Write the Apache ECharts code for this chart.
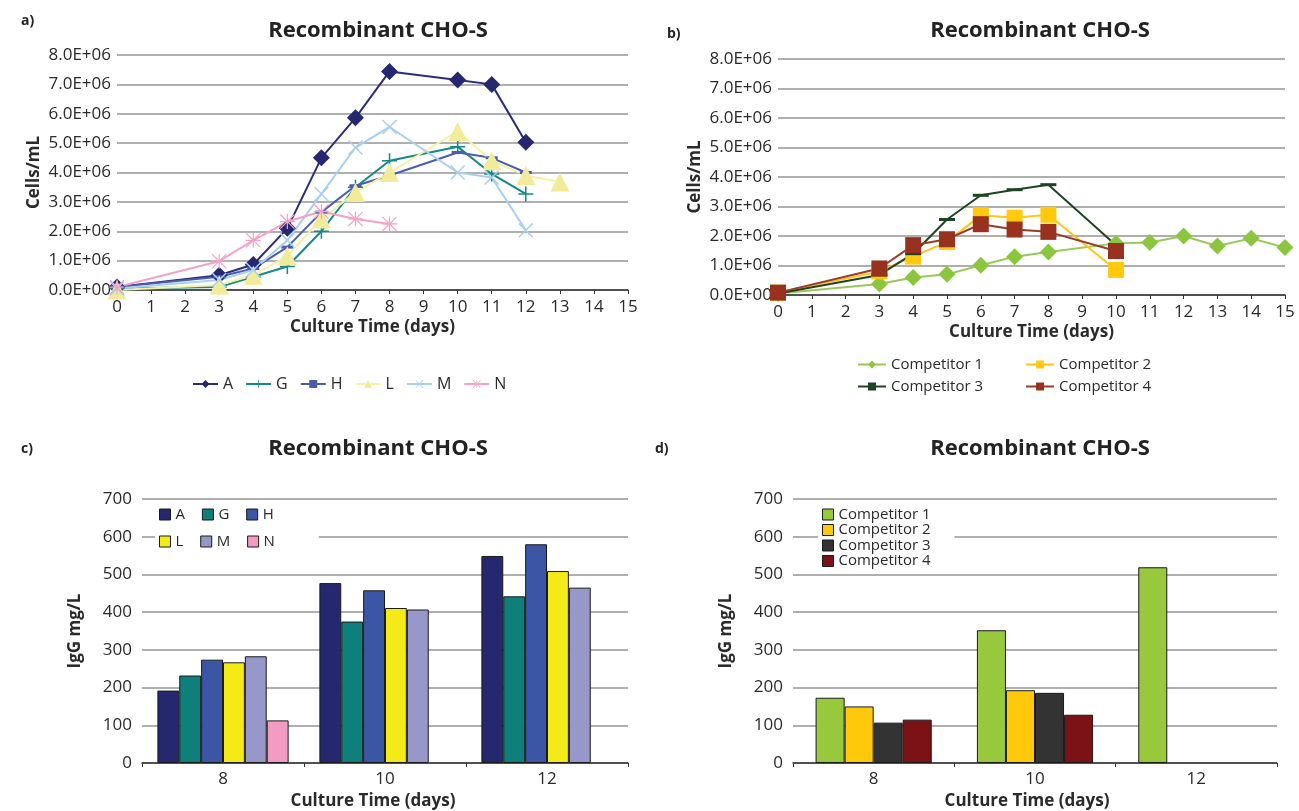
<!DOCTYPE html>
<html>
<head>
<meta charset="utf-8">
<script src="https://cdn.jsdelivr.net/npm/echarts@6/dist/echarts.min.js"></script>
<style>html,body{margin:0;padding:0;background:#fff;}#c{width:1299px;height:811px;}</style>
</head>
<body>
<div id="c"></div>
<script>
// ---- Data ----
const daysA = [0, 3, 4, 5, 6, 7, 8, 10, 11, 12];
const valA = [0.1, 0.5, 0.87, 2.1, 4.5, 5.86, 7.44, 7.15, 7.0, 5.03];
const daysG = [0, 3, 4, 5, 6, 7, 8, 10, 11, 12];
const valG = [0.05, 0.1, 0.45, 0.8, 2.0, 3.5, 4.4, 4.88, 3.95, 3.27];
const daysH = [0, 3, 4, 5, 6, 7, 8, 10, 11, 12];
const valH = [0.1, 0.45, 0.73, 1.46, 2.65, 3.55, 3.9, 4.68, 4.5, 4.0];
const daysL = [0, 3, 4, 5, 6, 7, 8, 10, 11, 12, 13];
const valL = [0.0, 0.17, 0.5, 1.16, 2.42, 3.32, 4.0, 5.4, 4.4, 3.9, 3.68];
const daysM = [0, 3, 4, 5, 6, 7, 8, 10, 11, 12];
const valM = [0.05, 0.34, 0.68, 1.69, 3.27, 4.85, 5.55, 4.0, 3.83, 2.03];
const daysN = [0, 3, 4, 5, 6, 7, 8];
const valN = [0.1, 0.98, 1.69, 2.33, 2.67, 2.42, 2.25];

const daysC1 = [0, 3, 4, 5, 6, 7, 8, 10, 11, 12, 13, 14, 15];
const valC1 = [0.05, 0.37, 0.59, 0.7, 1.01, 1.3, 1.46, 1.75, 1.78, 2.0, 1.66, 1.92, 1.61];
const daysC2 = [0, 3, 4, 5, 6, 7, 8, 10];
const valC2 = [0.08, 0.8, 1.3, 1.8, 2.7, 2.62, 2.72, 0.85];
const daysC3 = [0, 3, 4, 5, 6, 7, 8, 10];
const valC3 = [0.05, 0.68, 1.4, 2.56, 3.38, 3.57, 3.74, 1.69];
const daysC4 = [0, 3, 4, 5, 6, 7, 8, 10];
const valC4 = [0.08, 0.9, 1.69, 1.89, 2.4, 2.22, 2.14, 1.49];

const barCats = ['8', '10', '12'];
const igA = [192, 477, 549];
const igG = [232, 375, 442];
const igH = [274, 458, 580];
const igL = [267, 411, 509];
const igM = [283, 407, 465];
const igN = [113, null, null];
const igC1 = [173, 352, 519];
const igC2 = [150, 193, null];
const igC3 = [107, 186, null];
const igC4 = [115, 128, null];

// ---- Helpers ----
const FONT = 'Open Sans';
const TXT = '#2a2a2a';
const pairs = (xs, ys) => xs.map((x, i) => [x, ys[i] * 1e6]);
const sciFmt = v => v === 0 ? '0.0E+00' : (v / 1e6).toFixed(1) + 'E+06';

const P_PLUS = 'path://M9,0h2v20h-2z M0,9h20v2h-20z';
const P_X = 'path://M0,1.4L1.4,0L20,18.6L18.6,20Z M18.6,0L20,1.4L1.4,20L0,18.6Z';
const P_AST = 'path://M9.2,0h1.6v20h-1.6z M0,9.2h20v1.6h-20z M0,1.1L1.1,0L20,18.9L18.9,20Z M18.9,0L20,1.1L1.1,20L0,18.9Z';

const gridLine = { show: true, lineStyle: { color: '#959595', width: 1.7 } };
const axisLabel = { color: TXT, fontFamily: FONT, fontSize: 17 };
const nameStyle = { color: TXT, fontFamily: FONT, fontSize: 17, fontWeight: 'bold' };

function lineSeries(name, xs, ys, color, symbol, size, idx, symColor) {
  return {
    name, type: 'line', xAxisIndex: idx, yAxisIndex: idx,
    data: pairs(xs, ys), symbol, symbolSize: size,
    lineStyle: { color, width: 2 },
    itemStyle: { color: symColor || color },
    z: 3, animation: false
  };
}
function barSeries(name, data, color, idx) {
  return {
    name, type: 'bar', xAxisIndex: idx, yAxisIndex: idx, data,
    itemStyle: { color, borderColor: '#1a1a1a', borderWidth: 1 },
    barGap: '0%', barCategoryGap: idx === 2 ? '19%' : '28%', animation: false
  };
}
function valueX(gi) {
  return {
    type: 'value', gridIndex: gi, min: 0, max: 15, interval: 1,
    name: 'Culture Time (days)', nameLocation: 'middle', nameGap: 29, nameTextStyle: nameStyle,
    axisLine: { show: true, lineStyle: { color: '#333', width: 1.5 } },
    axisTick: { show: true, length: 4, lineStyle: { color: '#333' } },
    axisLabel: Object.assign({ margin: 9 }, axisLabel), splitLine: { show: false }
  };
}
function cellY(gi) {
  return {
    type: 'value', gridIndex: gi, min: 0, max: 8e6, interval: 1e6,
    name: 'Cells/mL', nameLocation: 'middle', nameGap: 74, nameTextStyle: nameStyle,
    axisLine: { show: false }, axisTick: { show: false },
    axisLabel: Object.assign({ formatter: sciFmt, margin: 6 }, axisLabel),
    splitLine: gridLine
  };
}
function catX(gi, shift) {
  return {
    type: 'category', gridIndex: gi, data: barCats,
    name: 'Culture Time (days)', nameLocation: 'middle', nameGap: 30,
    nameTextStyle: Object.assign({ padding: [0, shift, 0, 0] }, nameStyle),
    axisLine: { show: true, lineStyle: { color: '#333', width: 1.5 } },
    axisTick: { show: true, length: 4, lineStyle: { color: '#333' } },
    axisLabel: Object.assign({ margin: 8 }, axisLabel)
  };
}
function igY(gi) {
  return {
    type: 'value', gridIndex: gi, min: 0, max: 700, interval: 100,
    name: 'IgG mg/L', nameLocation: 'middle', nameGap: 58, nameTextStyle: nameStyle,
    axisLine: { show: false }, axisTick: { show: false },
    axisLabel: Object.assign({ margin: 10 }, axisLabel),
    splitLine: gridLine
  };
}

const titleStyle = { color: '#222', fontFamily: FONT, fontSize: 22, fontWeight: 'bold' };
const tagStyle = { color: '#222', fontFamily: FONT, fontSize: 14, fontWeight: 'bold' };
const legText = { color: TXT, fontFamily: FONT, fontSize: 15 };
const boxIcon = { borderColor: '#1a1a1a', borderWidth: 1 };

const chart = echarts.init(document.getElementById('c'));
chart.setOption({
  backgroundColor: '#fff',
  animation: false,
  title: [
    { text: 'a)', left: 16, top: 9, textStyle: tagStyle },
    { text: 'b)', left: 662, top: 22, textStyle: tagStyle },
    { text: 'c)', left: 16, top: 437, textStyle: tagStyle },
    { text: 'd)', left: 650, top: 437, textStyle: tagStyle },
    { text: 'Recombinant CHO-S', left: 373, top: 15, textAlign: 'center', textStyle: titleStyle },
    { text: 'Recombinant CHO-S', left: 1035, top: 15, textAlign: 'center', textStyle: titleStyle },
    { text: 'Recombinant CHO-S', left: 373, top: 433, textAlign: 'center', textStyle: titleStyle },
    { text: 'Recombinant CHO-S', left: 1035, top: 433, textAlign: 'center', textStyle: titleStyle }
  ],
  grid: [
    { left: 117, top: 55, width: 511, height: 235 },
    { left: 778, top: 59, width: 507, height: 236 },
    { left: 142, top: 499, width: 486, height: 264 },
    { left: 793, top: 499, width: 484, height: 264 }
  ],
  xAxis: [valueX(0), valueX(1), catX(2, 24), catX(3, 16)],
  yAxis: [cellY(0), cellY(1), igY(2), igY(3)],
  legend: [
    { data: ['A', 'G', 'H', 'L', 'M', 'N'], left: 187, top: 371, itemWidth: 25, itemHeight: 10, itemGap: 12,
      textStyle: Object.assign({ width: 12 }, legText, { fontSize: 16 }) },
    { data: ['Competitor 1', 'Competitor 2'], left: 852, top: 352, itemWidth: 28, itemHeight: 10, itemGap: 42, textStyle: legText },
    { data: ['Competitor 3', 'Competitor 4'], left: 852, top: 374, itemWidth: 28, itemHeight: 10, itemGap: 42, textStyle: legText },
    { data: ['A ', 'G ', 'H '], left: 155, top: 504, icon: 'rect', itemWidth: 11, itemHeight: 11, itemGap: 13, itemStyle: boxIcon,
      backgroundColor: '#fff', padding: [3, 4, 4, 4], textStyle: Object.assign({ width: 20 }, legText) },
    { data: ['L ', 'M ', 'N '], left: 155, top: 530, icon: 'rect', itemWidth: 11, itemHeight: 11, itemGap: 13, itemStyle: boxIcon,
      backgroundColor: '#fff', padding: [4, 40, 4, 4], textStyle: Object.assign({ width: 20 }, legText) },
    { data: ['Competitor 1 ', 'Competitor 2 ', 'Competitor 3 ', 'Competitor 4 '], orient: 'vertical', left: 818, top: 505,
      icon: 'rect', itemWidth: 11, itemHeight: 11, itemGap: 0.5, itemStyle: boxIcon,
      backgroundColor: '#fff', padding: [2, 20, 2, 4], textStyle: Object.assign({ lineHeight: 14 }, legText) }
  ],
  series: [
    lineSeries('A', daysA, valA, '#2b2d7c', 'diamond', 17, 0, '#25276f'),
    lineSeries('G', daysG, valG, '#138a86', P_PLUS, 15, 0),
    lineSeries('H', daysH, valH, '#4a5db0', 'rect', [12, 3], 0),
    lineSeries('L', daysL, valL, '#f6f1a4', 'triangle', 19, 0, '#f2ec9a'),
    lineSeries('M', daysM, valM, '#a9cff0', P_X, 15, 0),
    lineSeries('N', daysN, valN, '#f4a3c6', P_AST, 15, 0),

    lineSeries('Competitor 1', daysC1, valC1, '#98c85a', 'diamond', 17, 1, '#8cc63f'),
    lineSeries('Competitor 2', daysC2, valC2, '#fdc516', 'rect', 16, 1, '#ffc90e'),
    lineSeries('Competitor 3', daysC3, valC3, '#1f4423', 'rect', [16, 3], 1),
    lineSeries('Competitor 4', daysC4, valC4, '#9a3b2a', 'rect', 16, 1, '#98321f'),

    barSeries('A ', igA, '#26286f', 2),
    barSeries('G ', igG, '#0e7f7b', 2),
    barSeries('H ', igH, '#3a56a5', 2),
    barSeries('L ', igL, '#f3ea18', 2),
    barSeries('M ', igM, '#9797c9', 2),
    barSeries('N ', igN, '#f49bc3', 2),

    barSeries('Competitor 1 ', igC1, '#98c93c', 3),
    barSeries('Competitor 2 ', igC2, '#ffc90b', 3),
    barSeries('Competitor 3 ', igC3, '#333333', 3),
    barSeries('Competitor 4 ', igC4, '#7d1216', 3)
  ]
});
</script>
</body>
</html>
